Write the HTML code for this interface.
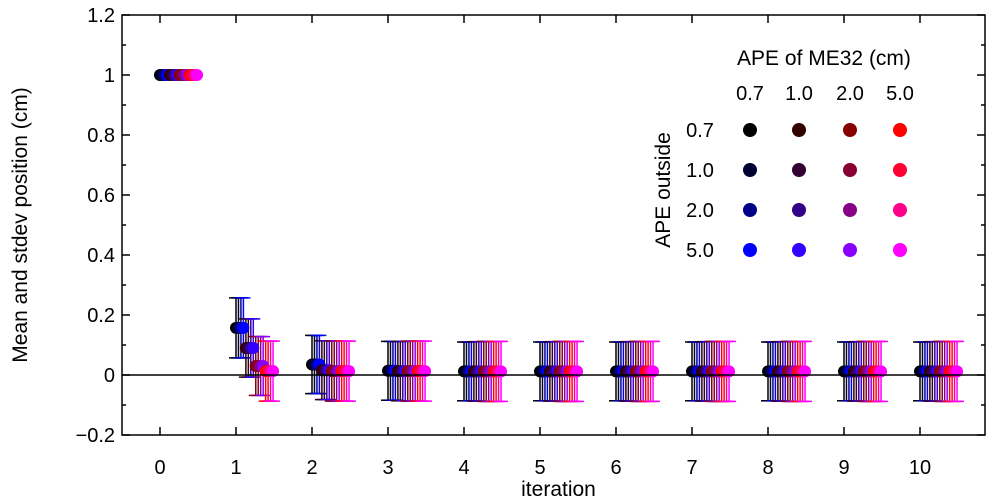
<!DOCTYPE html>
<html><head><meta charset="utf-8"><style>
body{margin:0;background:#fff}
svg{display:block;font-family:"Liberation Sans",sans-serif}
</style></head><body>
<svg id="chart" width="1000" height="500">
</svg>
<script>
const iterations=[0,1,2,3,4,5,6,7,8,9,10];
const meLabels=["0.7","1.0","2.0","5.0"];
const outLabels=["0.7","1.0","2.0","5.0"];
const colorLevels=[0x00,0x33,0x88,0xff];
// mean per ME32 group per iteration
const meanME07=[1,0.157,0.035,0.014,0.012,0.012,0.012,0.012,0.012,0.012,0.012];
const meanME10=[1,0.090,0.016,0.013,0.012,0.012,0.012,0.012,0.012,0.012,0.012];
const meanME20=[1,0.030,0.013,0.013,0.012,0.012,0.012,0.012,0.012,0.012,0.012];
const meanME50=[1,0.013,0.013,0.013,0.012,0.012,0.012,0.012,0.012,0.012,0.012];
const stdME07=[0,0.10,0.097,0.098,0.098,0.098,0.098,0.098,0.098,0.098,0.098];
const stdME10=[0,0.097,0.098,0.099,0.099,0.099,0.099,0.099,0.099,0.099,0.099];
const stdME20=[0,0.098,0.100,0.100,0.100,0.100,0.100,0.100,0.100,0.100,0.100];
const stdME50=[0,0.100,0.100,0.100,0.100,0.100,0.100,0.100,0.100,0.100,0.100];
const yTicks=[-0.2,0,0.2,0.4,0.6,0.8,1,1.2];
const yTickLabels=["\u22120.2","0","0.2","0.4","0.6","0.8","1","1.2"];

const L=122,R=985,T=15,B=435;
const xS=v=>160+v*76;
const yS=v=>375-v*300;
const svg=document.getElementById('chart');
const NS='http://www.w3.org/2000/svg';
function mk(t,a,p){const e=document.createElementNS(NS,t);for(const k in a)e.setAttribute(k,a[k]);(p||svg).appendChild(e);return e;}

const means=[meanME07,meanME10,meanME20,meanME50];
const stds=[stdME07,stdME10,stdME20,stdME50];
const hex=n=>n.toString(16).padStart(2,'0');
const gData=mk('g',{});


const zl=mk('line',{x1:L,x2:R,y1:yS(0),y2:yS(0),stroke:'#000','stroke-width':1.5});


const dots=[];
for(let m=0;m<4;m++)for(let o=0;o<4;o++){
  const k=m*4+o;
  const col='#'+hex(colorLevels[m])+'00'+hex(colorLevels[o]);
  iterations.forEach((it,i)=>{
    const x=xS(it+k*0.0325);
    const mu=means[m][i],sd=stds[m][i];
    if(sd>0){
      const g=mk('g',{stroke:col,'stroke-width':1.5},gData);
      
      
      mk('line',{x1:x,x2:x,y1:yS(mu+sd),y2:yS(mu-sd)},g);
      mk('line',{x1:x-7,x2:x+7,y1:yS(mu+sd),y2:yS(mu+sd)},g);
      mk('line',{x1:x-7,x2:x+7,y1:yS(mu-sd),y2:yS(mu-sd)},g);
    }
    dots.push([x,yS(mu),col]);
  });
}
dots.forEach(d=>{
  const c=mk('circle',{cx:d[0],cy:d[1],r:6,fill:d[2]},gData);
  
  
});
const fr=mk('rect',{x:L,y:T,width:R-L,height:B-T,fill:'none',stroke:'#000','stroke-width':1.5});


yTicks.forEach((v,i)=>{
  const y=yS(v);
  mk('line',{x1:L,x2:L+8,y1:y,y2:y,stroke:'#000','stroke-width':1.5});
  mk('line',{x1:R,x2:R-8,y1:y,y2:y,stroke:'#000','stroke-width':1.5});
  if(i<yTicks.length-1){const ym=yS(v+0.1);
    mk('line',{x1:L,x2:L+4,y1:ym,y2:ym,stroke:'#000','stroke-width':1.5});
    mk('line',{x1:R,x2:R-4,y1:ym,y2:ym,stroke:'#000','stroke-width':1.5});}
  const t=mk('text',{x:L-7,y:y+7,'text-anchor':'end','font-size':20});
  t.textContent=yTickLabels[i];
  
  
});
iterations.forEach(it=>{
  const x=xS(it);
  mk('line',{x1:x,x2:x,y1:B,y2:B-8,stroke:'#000','stroke-width':1.5});
  mk('line',{x1:x,x2:x,y1:T,y2:T+8,stroke:'#000','stroke-width':1.5});
  const t=mk('text',{x:x,y:474,'text-anchor':'middle','font-size':20});
  t.textContent=it;
  
  
});
let t=mk('text',{x:(L+R)/2+5,y:496,'text-anchor':'middle','font-size':21});
t.textContent='iteration';


t=mk('text',{x:0,y:0,'text-anchor':'middle','font-size':21,transform:'translate(27,225) rotate(-90)'});
t.textContent='Mean and stdev position (cm)';


const lg=mk('g',{});


t=mk('text',{x:824,y:65,'text-anchor':'middle','font-size':21},lg);
t.textContent='APE of ME32 (cm)';


t=mk('text',{x:0,y:0,'text-anchor':'middle','font-size':21,transform:'translate(670,190) rotate(-90)'},lg);
t.textContent='APE outside';


const cx=[750,799,850,900],ry=[130,170,210,250];
meLabels.forEach((s,m)=>{
  const tt=mk('text',{x:cx[m],y:100,'text-anchor':'middle','font-size':20},lg);
  tt.textContent=s;
  
  
});
outLabels.forEach((s,o)=>{
  const tt=mk('text',{x:700,y:ry[o]+7,'text-anchor':'middle','font-size':20},lg);
  tt.textContent=s;
  
  
  for(let m=0;m<4;m++){
    const c=mk('circle',{cx:cx[m],cy:ry[o],r:7,fill:'#'+hex(colorLevels[m])+'00'+hex(colorLevels[o])},lg);
    
    
  }
});
</script>
</body></html>
